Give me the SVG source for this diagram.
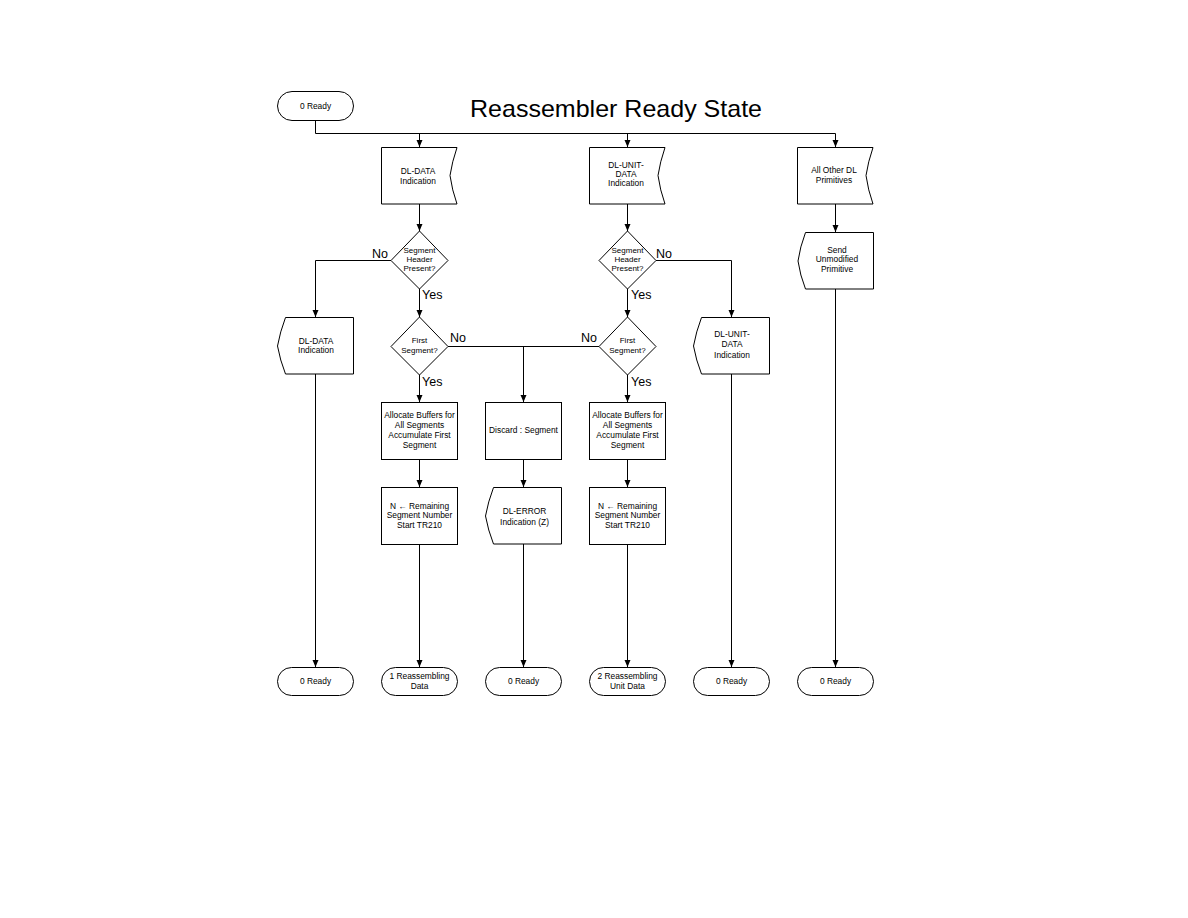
<svg xmlns="http://www.w3.org/2000/svg" width="1188" height="918" viewBox="0 0 1188 918">
<defs>
<marker id="arr" markerUnits="userSpaceOnUse" markerWidth="8" markerHeight="7" refX="7" refY="3" orient="auto">
<path d="M0,0 L7,3 L0,6 z" fill="#000"/>
</marker>
<style>
.s{fill:#fff;stroke:#000;stroke-width:1}
.t{font-family:"Liberation Sans",Arial,sans-serif;font-size:8.4px;fill:#000;text-anchor:middle}
.d{font-family:"Liberation Sans",Arial,sans-serif;font-size:8px;fill:#000;text-anchor:middle}
.l{font-family:"Liberation Sans",Arial,sans-serif;font-size:12.5px;fill:#000}
.c{fill:none;stroke:#000;stroke-width:1}
.a{fill:none;stroke:#000;stroke-width:1;marker-end:url(#arr)}
</style>
</defs>
<rect width="1188" height="918" fill="#fff"/>
<text x="470" y="116.5" font-family="'Liberation Sans',Arial,sans-serif" font-size="24" textLength="292" lengthAdjust="spacingAndGlyphs">Reassembler Ready State</text>

<g id="connectors">
<path class="a" d="M315.5,120 V133.5 H835.5 V147"/>
<path class="a" d="M419.5,133.5 V147"/>
<path class="a" d="M627.5,133.5 V147"/>
<path class="a" d="M419.5,204 V231"/>
<path class="a" d="M627.5,204 V231"/>
<path class="a" d="M835.5,204 V232"/>
<path class="a" d="M391,260.5 H315.5 V317"/>
<path class="a" d="M419.5,289 V317"/>
<path class="a" d="M656,260.5 H731.5 V317"/>
<path class="a" d="M627.5,289 V317"/>
<path class="c" d="M448,346.5 H599"/>
<path class="a" d="M523.5,346.5 V402"/>
<path class="a" d="M419.5,375 V402"/>
<path class="a" d="M627.5,375 V402"/>
<path class="a" d="M419.5,459 V487"/>
<path class="a" d="M523.5,459 V487"/>
<path class="a" d="M627.5,459 V487"/>
<path class="a" d="M419.5,544 V667"/>
<path class="a" d="M523.5,544 V667"/>
<path class="a" d="M627.5,544 V667"/>
<path class="a" d="M315.5,374 V667"/>
<path class="a" d="M731.5,374 V667"/>
<path class="a" d="M835.5,289 V667"/>
<text class="l" x="372" y="258">No</text>
<text class="l" x="422" y="299">Yes</text>
<text class="l" x="450" y="342">No</text>
<text class="l" x="422" y="386">Yes</text>
<text class="l" x="656" y="258">No</text>
<text class="l" x="631" y="299">Yes</text>
<text class="l" x="581" y="342">No</text>
<text class="l" x="631" y="386">Yes</text>
</g>

<g id="start">
<rect class="s" x="277.5" y="91.5" width="76" height="29" rx="14.5"/>
<text class="t" x="315.5" y="108.5">0 Ready</text>
</g>

<g id="in-dl-data">
<path class="s" d="M381.5,147.5 H457 Q452,162 450,175.5 Q452,190 457,204 H381.5 Z"/>
<text class="t" x="418" y="174">DL-DATA</text>
<text class="t" x="418" y="184">Indication</text>
</g>
<g id="in-dl-unit-data">
<path class="s" d="M589.5,147.5 H665 Q660,162 658,175.5 Q660,190 665,204 H589.5 Z"/>
<text class="t" x="626" y="168">DL-UNIT-</text>
<text class="t" x="626" y="177">DATA</text>
<text class="t" x="626" y="186">Indication</text>
</g>
<g id="in-other">
<path class="s" d="M797.5,147.5 H873 Q868,162 866,175.5 Q868,190 873,204 H797.5 Z"/>
<text class="t" x="834" y="172.5">All Other DL</text>
<text class="t" x="834" y="182.5">Primitives</text>
</g>

<g id="dec-header-1">
<path class="s" d="M419.5,231 L448,260.5 L419.5,289 L391,260.5 Z"/>
<text class="d" x="419.5" y="252.5">Segment</text>
<text class="d" x="419.5" y="262">Header</text>
<text class="d" x="419.5" y="271">Present?</text>
</g>
<g id="dec-header-2">
<path class="s" d="M627.5,231 L656,260.5 L627.5,289 L599,260.5 Z"/>
<text class="d" x="627.5" y="252.5">Segment</text>
<text class="d" x="627.5" y="262">Header</text>
<text class="d" x="627.5" y="271">Present?</text>
</g>

<g id="send-unmodified">
<path class="s" d="M805.5,232.5 H873.5 V289 H805.5 Q800,275 798,261 Q800,247 805.5,232.5 Z"/>
<text class="t" x="837" y="252.5">Send</text>
<text class="t" x="837" y="262">Unmodified</text>
<text class="t" x="837" y="271.5">Primitive</text>
</g>

<g id="out-dl-data">
<path class="s" d="M285.5,317.5 H353.5 V374 H285.5 Q280,360 277.5,346 Q280,332 285.5,317.5 Z"/>
<text class="t" x="316" y="343.5">DL-DATA</text>
<text class="t" x="316" y="353">Indication</text>
</g>
<g id="out-dl-unit-data">
<path class="s" d="M701.5,317.5 H769.5 V374 H701.5 Q696,360 693.5,346 Q696,332 701.5,317.5 Z"/>
<text class="t" x="732" y="337">DL-UNIT-</text>
<text class="t" x="732" y="347">DATA</text>
<text class="t" x="732" y="357.5">Indication</text>
</g>

<g id="dec-first-1">
<path class="s" d="M419.5,317 L448,346.5 L419.5,375 L391,346.5 Z"/>
<text class="d" x="419.5" y="343">First</text>
<text class="d" x="419.5" y="352.5">Segment?</text>
</g>
<g id="dec-first-2">
<path class="s" d="M627.5,317 L656,346.5 L627.5,375 L599,346.5 Z"/>
<text class="d" x="627.5" y="343">First</text>
<text class="d" x="627.5" y="352.5">Segment?</text>
</g>

<g id="alloc-1">
<rect class="s" x="381.5" y="402.5" width="76" height="57"/>
<text class="t" x="419.5" y="418">Allocate Buffers for</text>
<text class="t" x="419.5" y="428">All Segments</text>
<text class="t" x="419.5" y="438">Accumulate First</text>
<text class="t" x="419.5" y="448">Segment</text>
</g>
<g id="discard">
<rect class="s" x="485.5" y="402.5" width="76" height="57"/>
<text class="t" x="523.5" y="433">Discard : Segment</text>
</g>
<g id="alloc-2">
<rect class="s" x="589.5" y="402.5" width="76" height="57"/>
<text class="t" x="627.5" y="418">Allocate Buffers for</text>
<text class="t" x="627.5" y="428">All Segments</text>
<text class="t" x="627.5" y="438">Accumulate First</text>
<text class="t" x="627.5" y="448">Segment</text>
</g>

<g id="remaining-1">
<rect class="s" x="381.5" y="487.5" width="76" height="57"/>
<text class="t" x="419.5" y="508.5">N ← Remaining</text>
<text class="t" x="419.5" y="518">Segment Number</text>
<text class="t" x="419.5" y="527.5">Start TR210</text>
</g>
<g id="dl-error">
<path class="s" d="M493.5,487.5 H561.5 V544 H493.5 Q488,530 485.5,516 Q488,502 493.5,487.5 Z"/>
<text class="t" x="524.5" y="513.5">DL-ERROR</text>
<text class="t" x="524.5" y="524.5">Indication (Z)</text>
</g>
<g id="remaining-2">
<rect class="s" x="589.5" y="487.5" width="76" height="57"/>
<text class="t" x="627.5" y="508.5">N ← Remaining</text>
<text class="t" x="627.5" y="518">Segment Number</text>
<text class="t" x="627.5" y="527.5">Start TR210</text>
</g>

<g id="end-1">
<rect class="s" x="277.5" y="667.5" width="76" height="28" rx="14"/>
<text class="t" x="315.5" y="684">0 Ready</text>
</g>
<g id="end-2">
<rect class="s" x="381.5" y="667.5" width="76" height="28" rx="14"/>
<text class="t" x="419.5" y="678.5">1 Reassembling</text>
<text class="t" x="419.5" y="688.5">Data</text>
</g>
<g id="end-3">
<rect class="s" x="485.5" y="667.5" width="76" height="28" rx="14"/>
<text class="t" x="523.5" y="684">0 Ready</text>
</g>
<g id="end-4">
<rect class="s" x="589.5" y="667.5" width="76" height="28" rx="14"/>
<text class="t" x="627.5" y="678.5">2 Reassembling</text>
<text class="t" x="627.5" y="688.5">Unit Data</text>
</g>
<g id="end-5">
<rect class="s" x="693.5" y="667.5" width="76" height="28" rx="14"/>
<text class="t" x="731.5" y="684">0 Ready</text>
</g>
<g id="end-6">
<rect class="s" x="797.5" y="667.5" width="76" height="28" rx="14"/>
<text class="t" x="835.5" y="684">0 Ready</text>
</g>
</svg>
